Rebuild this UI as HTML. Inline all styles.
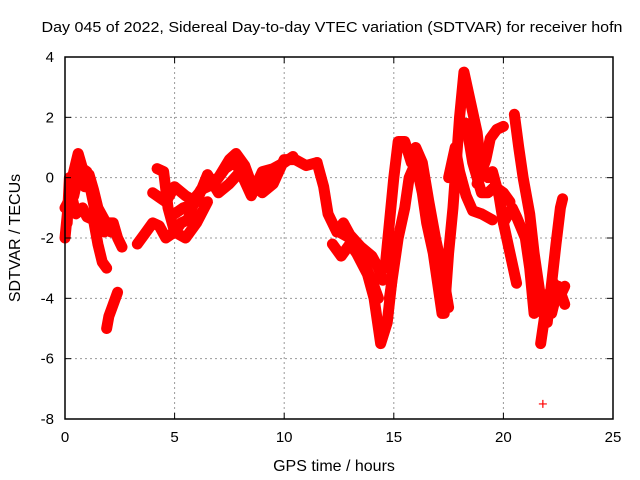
<!DOCTYPE html>
<html><head><meta charset="utf-8"><style>
body{margin:0;background:#fff;}
svg{display:block;font-family:"Liberation Sans",sans-serif;}
</style></head><body>
<svg id="chart" width="640" height="480">
<text x="332" y="32" text-anchor="middle" font-size="15" textLength="581" lengthAdjust="spacingAndGlyphs">Day 045 of 2022, Sidereal Day-to-day VTEC variation (SDTVAR) for receiver hofn</text>
<text x="334" y="471" text-anchor="middle" font-size="16">GPS time / hours</text>
<text transform="translate(20,238) rotate(-90)" text-anchor="middle" font-size="16">SDTVAR / TECUs</text>
<g id="grid"></g><g id="series"></g>
<rect x="65" y="57" width="548" height="362" fill="none" stroke="#000" stroke-width="1.5"/>
<g id="ticks"></g>
</svg>
<script>
const xTicks=[0,5,10,15,20,25];
const yTicks=[4,2,0,-2,-4,-6,-8];
const traces=[
[[0,-2],[0.2,-0.5],[0.4,0.2],[0.6,0.8],[0.8,0.3],[1,0.2],[1.2,-0.5],[1.4,-1.2],[1.6,-1.5],[1.8,-1.8],[2,-1.5],[2.2,-1.5],[2.4,-2],[2.6,-2.3]],
[[0,-1],[0.3,-0.6],[0.5,-1.2],[0.8,-1.0],[1,-1.3],[1.3,-1.4],[1.5,-2.2],[1.7,-2.8],[1.9,-3.0]],
[[0.1,-1.5],[0.2,0],[0.4,-0.6],[0.7,0.4],[0.9,-0.3],[1.1,0.1],[1.3,-0.4],[1.5,-1.0],[1.8,-1.4],[2.1,-1.8]],
[[1.9,-5],[2.0,-4.6],[2.2,-4.2],[2.4,-3.8]],
[[3.3,-2.2],[3.7,-1.8],[4,-1.5],[4.3,-1.6],[4.6,-2],[5,-1.8],[5.3,-1.5],[5.6,-1.4],[6,-0.6],[6.5,-0.2],[7,0],[7.5,0.6],[7.8,0.8],[8.2,0.4],[8.5,-0.2],[9,-0.5],[9.5,-0.2],[10,0.6],[10.5,0.6],[11,0.4],[11.5,0.5]],
[[4,-0.5],[4.4,-0.7],[4.6,-0.8],[5,-0.3],[5.5,-0.6],[6,-0.8],[6.5,0.1],[7,-0.5],[7.5,-0.2],[8,0.2],[8.5,-0.6],[9,0.2],[9.5,0.3],[10,0.5],[10.4,0.7]],
[[4.2,0.3],[4.5,0.2],[4.7,-1],[5,-1.8],[5.5,-2.0],[6,-1.5],[6.5,-0.8]],
[[5,-1.2],[5.4,-1.0],[5.8,-0.9],[6.2,-0.4],[6.8,-0.2],[7.3,0.3],[7.7,0.5],[8.3,0.0],[8.8,-0.3],[9.3,0.0],[9.8,0.4]],
[[11.5,0.5],[11.8,-0.3],[12,-1.2],[12.4,-1.8],[12.7,-1.5],[13,-1.9],[13.5,-2.3],[14,-2.6],[14.3,-3.0],[14.5,-3.4]],
[[12.2,-2.2],[12.6,-2.6],[13,-2.2],[13.3,-2.5],[13.8,-3.2],[14.1,-4.0],[14.3,-5.0],[14.4,-5.5],[14.7,-4.8],[14.9,-3.5],[15,-2]],
[[12.5,-1.8],[13,-2.0],[13.5,-2.6],[14,-3.4],[14.3,-4.0]],
[[14.6,-3],[14.8,-1.5],[15,0],[15.2,1.2],[15.5,1.2],[15.8,0.5],[16,1.0],[16.3,0.5],[16.6,-0.8],[16.9,-2.0],[17.2,-3.0],[17.5,-4.3]],
[[14.8,-4.0],[15.2,-2.0],[15.5,-1],[15.7,0],[16,0.5],[16.3,-0.5],[16.5,-1.5],[16.8,-2.5],[17,-3.5],[17.2,-4.5]],
[[17.3,-4.5],[17.5,-2.5],[17.7,-1],[18,2],[18.2,3.5],[18.5,2.5],[18.8,1.5],[19,0.2],[19.3,0],[19.5,0.2],[19.8,-0.6],[20,-1.5],[20.3,-2.5],[20.6,-3.5]],
[[17.5,0],[17.8,1],[18,0.2],[18.3,-0.6],[18.6,-1.1],[19,-1.2],[19.5,-1.4]],
[[18.3,1.8],[18.6,0.5],[19,-0.5],[19.3,-0.5],[19.6,-0.3],[20,-0.5],[20.3,-0.8]],
[[18.8,-0.2],[19.2,0.6],[19.4,1.3],[19.7,1.6],[20,1.7]],
[[20.5,2.1],[20.7,1.0],[20.9,0],[21.2,-1.2],[21.4,-2.5],[21.6,-3.5],[21.8,-4.5],[22,-4.5]],
[[20,-1.5],[20.4,-1],[20.6,-1.3],[21,-2],[21.2,-3],[21.4,-4.5]],
[[21.7,-5.5],[22,-4],[22.3,-3.5],[22.6,-3.9],[22.8,-3.6]],
[[21.9,-4.2],[22.2,-4.5],[22.5,-3.6],[22.8,-4.2]],
[[22,-4.8],[22.2,-3.5],[22.4,-2.2],[22.6,-1],[22.7,-0.7]],
[[21.8,-7.5]]
];
const NS="http://www.w3.org/2000/svg";
const X0=65,X1=613,Y0=419,Y1=57;
function xs(v){return X0+(v-0)/(25-0)*(X1-X0);}
function ys(v){return Y0-(v+8)/12*(Y0-Y1);}
const grid=document.getElementById('grid'),ticks=document.getElementById('ticks'),ser=document.getElementById('series');
function mk(tag,attrs,parent){const e=document.createElementNS(NS,tag);for(const k in attrs)e.setAttribute(k,attrs[k]);parent.appendChild(e);return e;}
xTicks.forEach(t=>{
  const x=xs(t);
  if(t>0&&t<25){const g=mk('line',{x1:x,x2:x,y1:Y0,y2:Y1,stroke:'#999','stroke-dasharray':'2,3'},grid);
  
  }
  mk('line',{x1:x,x2:x,y1:Y0,y2:Y0-6,stroke:'#000'},ticks);
  mk('line',{x1:x,x2:x,y1:Y1,y2:Y1+6,stroke:'#000'},ticks);
  const l=mk('text',{x:x,y:Y0+23,'text-anchor':'middle','font-size':15},ticks);l.textContent=t;
  
  
});
yTicks.forEach(t=>{
  const y=ys(t);
  if(t>-8&&t<4){const g=mk('line',{x1:X0,x2:X1,y1:y,y2:y,stroke:'#999','stroke-dasharray':'2,3'},grid);
  
  }
  mk('line',{x1:X0,x2:X0+6,y1:y,y2:y,stroke:'#000'},ticks);
  mk('line',{x1:X1,x2:X1-6,y1:y,y2:y,stroke:'#000'},ticks);
  const l=mk('text',{x:X0-11,y:y+5,'text-anchor':'end','font-size':15},ticks);l.textContent=t;
  
  
});
traces.forEach(tr=>{
  if(tr.length>1){
    const p=mk('polyline',{points:tr.map(d=>xs(d[0])+','+ys(d[1])).join(' '),fill:'none',stroke:'#f00','stroke-width':11,'stroke-linejoin':'round','stroke-linecap':'round'},ser);
    
    
  }
  tr.forEach(d=>{
    const x=xs(d[0]),y=ys(d[1]);
    const m=mk('path',{d:`M${x-4},${y}H${x+4}M${x},${y-4}V${y+4}`,stroke:'#f00','stroke-width':1.2},ser);
    
    
  });
});
</script>
</body></html>
